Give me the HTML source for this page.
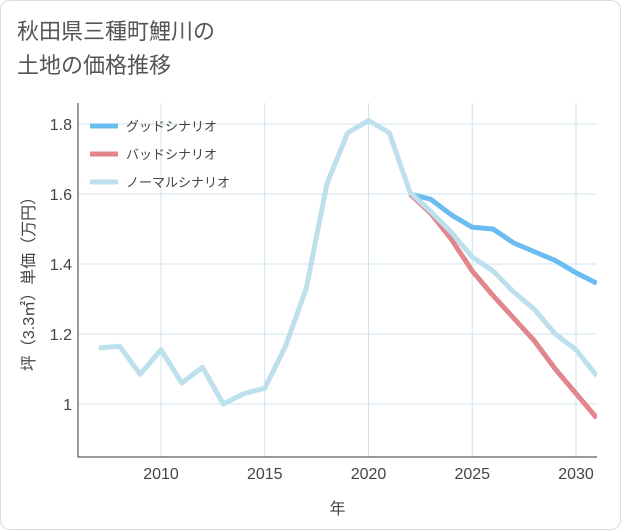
<!DOCTYPE html>
<html><head><meta charset="utf-8"><style>
body{margin:0;background:#fff;}
#wrap{position:relative;width:619px;height:528px;border:1px solid #ddd;border-radius:10px;background:#fff;overflow:hidden;font-family:"Liberation Sans","Noto Sans CJK JP",sans-serif;}
#title{position:absolute;left:16px;top:14px;font-size:22px;line-height:34px;color:#555;}
</style></head><body>
<div id="wrap">
<div id="title">秋田県三種町鯉川の<br>土地の価格推移</div>
<svg id="chart" width="621" height="530" style="position:absolute;left:-1px;top:-1px"></svg>
</div>
<script>
const years=[2007,2008,2009,2010,2011,2012,2013,2014,2015,2016,2017,2018,2019,2020,2021,2022,2023,2024,2025,2026,2027,2028,2029,2030,2031];
const normalVals=[1.16,1.165,1.085,1.155,1.06,1.105,1.0,1.03,1.045,1.165,1.33,1.63,1.775,1.81,1.775,1.605,1.55,1.49,1.42,1.38,1.32,1.27,1.2,1.155,1.08];
const futYears=[2022,2023,2024,2025,2026,2027,2028,2029,2030,2031];
const goodVals=[1.6,1.585,1.54,1.505,1.5,1.46,1.435,1.41,1.375,1.345];
const badVals=[1.6,1.545,1.47,1.38,1.31,1.245,1.18,1.1,1.03,0.96];
const xTicks=[2010,2015,2020,2025,2030];
const yTicks=[1,1.2,1.4,1.6,1.8];
const yTickLabels=["1","1.2","1.4","1.6","1.8"];
const legendNames=["グッドシナリオ","バッドシナリオ","ノーマルシナリオ"];
const legendColors=["#6bbcf0","#e0868c","#bde0ec"];
const L=78,R=597,T=103,B=457;
const x=v=>161+(v-2010)*20.75;
const y=v=>404-(v-1)*350;
const svg=document.getElementById('chart');
const NS="http://www.w3.org/2000/svg";
function mk(t,a){const e=document.createElementNS(NS,t);for(const k in a)e.setAttribute(k,a[k]);svg.appendChild(e);return e;}
yTicks.forEach((v,i)=>{
 const g=mk('line',{x1:L,x2:R,y1:y(v),y2:y(v),stroke:'#cfe3ee','stroke-width':1});
 
 
 const t=mk('text',{x:L-6,y:y(v)+6,'text-anchor':'end','font-size':16,fill:'#444','font-family':'Liberation Sans, sans-serif'});
 t.textContent=yTickLabels[i];
 
 
});
xTicks.forEach(v=>{
 const g=mk('line',{x1:x(v),x2:x(v),y1:T,y2:B,stroke:'#cfe3ee','stroke-width':1});
 
 
 const t=mk('text',{x:x(v),y:B+22,'text-anchor':'middle','font-size':16,fill:'#444','font-family':'Liberation Sans, sans-serif'});
 t.textContent=v;
 
 
});
const ax=mk('path',{d:`M${L},${T}V${B}H${R}`,stroke:'#333',fill:'none','stroke-width':1});


function line(xs,vs,c,n){
 const p=mk('polyline',{points:xs.map((v,i)=>x(v)+','+y(vs[i])).join(' '),fill:'none',stroke:c,'stroke-width':5,'stroke-linejoin':'round'});
 
 
}
const cp=mk('clipPath',{id:'cp'});mk('rect',{x:L,y:T,width:R-L,height:B-T});
svg.lastChild.remove();const cr=document.createElementNS(NS,'rect');cr.setAttribute('x',L);cr.setAttribute('y',T);cr.setAttribute('width',R-L);cr.setAttribute('height',B-T);cp.appendChild(cr);
const g0=svg.childElementCount;
line(futYears,goodVals,legendColors[0],'good-scenario-line');
line(futYears,badVals,legendColors[1],'bad-scenario-line');
line(years,normalVals,legendColors[2],'normal-scenario-line');
[...svg.querySelectorAll('polyline')].forEach(p=>p.setAttribute('clip-path','url(#cp)'));
legendNames.forEach((n,i)=>{
 const yy=126+i*28;
 const l=mk('line',{x1:90,x2:118,y1:yy,y2:yy,stroke:legendColors[i],'stroke-width':5});
 
 
 const t=mk('text',{x:126,y:yy+5,'font-size':13,fill:'#444','font-family':'Liberation Sans, Noto Sans CJK JP, sans-serif'});
 t.textContent=n;
 
 
});
const xt=mk('text',{x:(L+R)/2,y:514,'text-anchor':'middle','font-size':16,fill:'#444','font-family':'Noto Sans CJK JP, sans-serif'});
xt.textContent='年';


const yt=mk('text',{x:0,y:0,'text-anchor':'middle','font-size':16,fill:'#444',transform:`translate(34,${(T+B)/2}) rotate(-90)`,'font-family':'Liberation Sans, Noto Sans CJK JP, sans-serif'});
yt.textContent='坪（3.3㎡）単価（万円）';


</script>
</body></html>
